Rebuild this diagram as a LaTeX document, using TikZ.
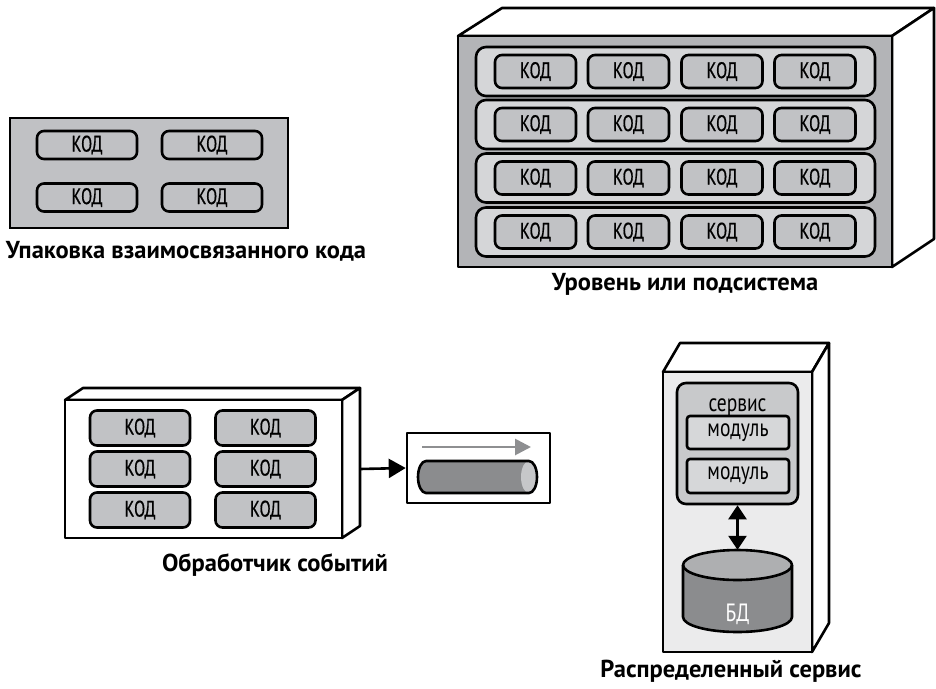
\documentclass[tikz,border=0pt]{standalone}
\usepackage{fontspec}
\setmainfont{PT Sans}
\newfontfamily\cf{PT Sans}[FakeStretch=0.78]
\newfontfamily\codefont{PT Sans}[FakeStretch=0.72, FakeBold=0.6]
\usetikzlibrary{arrows.meta}
\definecolor{pkgfill}{HTML}{C0C1C4}
\definecolor{layerface}{HTML}{B3B4B7}
\definecolor{rowfill}{HTML}{D5D6D8}
\definecolor{codefill}{HTML}{C1C2C5}
\definecolor{distfront}{HTML}{EBEBEC}
\definecolor{svcfill}{HTML}{C8C9CB}
\definecolor{modfill}{HTML}{D6D7D9}
\definecolor{dbtop}{HTML}{AEAFB1}
\definecolor{dbbody}{HTML}{8B8C8E}
\definecolor{qarrow}{HTML}{8E8F91}
\definecolor{capfill}{HTML}{C6C7C9}
\tikzset{
  outline/.style={draw=black, line width=2.6pt, line join=round},
  codebox/.style={draw=black, line width=2.6pt, rounded corners=7pt, fill=codefill,
    minimum width=#1, inner sep=0pt, font=\codefont\fontsize{22.5}{22.5}\selectfont},
  rowbox/.style={draw=black, line width=2.6pt, rounded corners=10pt, fill=rowfill,
    minimum width=399pt, minimum height=49pt, inner sep=0pt},
  modbox/.style={draw=black, line width=2.6pt, rounded corners=3pt, fill=modfill,
    minimum width=102pt, inner sep=0pt, font=\cf\fontsize{25}{25}\selectfont},
  caption/.style={anchor=base, inner sep=0pt, font=\bfseries\fontsize{24.5}{24.5}\selectfont},
  bigarrow/.style={line width=2.6pt, -{Triangle[length=17pt,width=19pt]}},
}
\begin{document}
\begin{tikzpicture}[x=1pt,y=-1pt]
\useasboundingbox (0,0) rectangle (936,688);

% ---------- Package of related code ----------
\node[draw=black, line width=2.2pt, fill=pkgfill, minimum width=278pt, minimum height=110pt, inner sep=0pt] (pkg) at (149,173) {};
\node[codebox=100pt, minimum height=28pt, fill=pkgfill] (p1) at (87,145) {КОД};
\node[codebox=100pt, minimum height=28pt, fill=pkgfill] (p2) at (212,145) {КОД};
\node[codebox=100pt, minimum height=28pt, fill=pkgfill] (p3) at (87,197.5) {КОД};
\node[codebox=100pt, minimum height=28pt, fill=pkgfill] (p4) at (212,197.5) {КОД};
\node[caption] (pkgcap) at (186,258) {Упаковка взаимосвязанного кода};

% ---------- Layer / subsystem ----------
\draw[outline, fill=white] (458,36) -- (502,8) -- (934,8) -- (892,36) -- cycle;
\draw[outline, fill=white] (892,36) -- (934,8) -- (934,239) -- (892,267) -- cycle;
\node[outline, fill=layerface, minimum width=434pt, minimum height=231pt, inner sep=0pt] (layer) at (675,151.5) {};
\foreach \r/\y in {1/71.5, 2/124.5, 3/178, 4/232} {
  \node[rowbox] (row\r) at (675.5,\y) {};
  \foreach \c/\x in {1/535.5, 2/628.5, 3/722, 4/815} {
    \node[codebox=81pt, minimum height=33pt] (l\r\c) at (\x,\y) {КОД};
  }
}
\node[caption] (layercap) at (685,290) {Уровень или подсистема};

% ---------- Event processor ----------
\draw[outline, fill=white] (65,400) -- (83,388) -- (360,388) -- (342,400) -- cycle;
\draw[outline, fill=white] (342,400) -- (360,388) -- (360,526) -- (342,538) -- cycle;
\node[outline, fill=white, minimum width=277pt, minimum height=138pt, inner sep=0pt] (evt) at (203.5,469) {};
\coordinate (evtside) at (360,469);
\foreach \r/\y in {1/428, 2/469, 3/510} {
  \node[codebox=100pt, minimum height=35pt] (e\r1) at (140,\y) {КОД};
  \node[codebox=100pt, minimum height=35pt] (e\r2) at (265.5,\y) {КОД};
}
\node[outline, fill=white, minimum width=143pt, minimum height=70pt, inner sep=0pt] (queue) at (478.5,468) {};
\draw[bigarrow] (evtside) -- (queue.west);
\coordinate (qa) at (422,447);
\coordinate (qb) at (531,447);
\draw[line width=2.8pt, draw=qarrow, -{Triangle[length=16pt,width=16pt]}] (qa) -- (qb);
% horizontal cylinder
\fill[dbbody] (529,461) -- (426,461) arc[start angle=90, end angle=270, x radius=8, y radius=-16] -- (529,493) -- cycle;
\fill[capfill] (529,477) ellipse[x radius=8, y radius=16];
\draw[outline] (529,461) -- (426,461) arc[start angle=90, end angle=270, x radius=8, y radius=-16] -- (529,493)
  arc[start angle=-90, end angle=90, x radius=8, y radius=-16];
\node[caption] (evtcap) at (275,571) {Обработчик событий};

% ---------- Distributed service ----------
\draw[outline, fill=white] (663,372) -- (680,343) -- (829,343) -- (812,372) -- cycle;
\draw[outline, fill=white] (812,372) -- (829,343) -- (829,623) -- (812,652) -- cycle;
\node[outline, fill=distfront, minimum width=149pt, minimum height=280pt, inner sep=0pt] (dist) at (737.5,512) {};
\node[draw=black, line width=2.6pt, rounded corners=9pt, fill=svcfill, minimum width=121pt, minimum height=121pt, inner sep=0pt] (svc) at (737.5,443.5) {};
\node[anchor=base, inner sep=0pt, font=\cf\fontsize{25}{25}\selectfont] (svclbl) at (737.5,411) {сервис};
\node[modbox, minimum height=33pt] (m1) at (738,432.5) {модуль};
\node[modbox, minimum height=34pt] (m2) at (738,476) {модуль};
% database cylinder
\fill[dbbody] (683,565) -- (683,617) arc[start angle=180, end angle=360, x radius=54.5, y radius=-15] -- (792,565) -- cycle;
\fill[dbtop] (737.5,565) ellipse[x radius=54.5, y radius=15];
\draw[outline] (683,565) -- (683,617) arc[start angle=180, end angle=360, x radius=54.5, y radius=-15] -- (792,565);
\draw[outline] (737.5,565) ellipse[x radius=54.5, y radius=15];
\node[inner sep=0pt, minimum width=109pt, minimum height=82pt] (db) at (737.5,591) {};
\node[anchor=base, inner sep=0pt, text=white, font=\cf\fontsize{25}{25}\selectfont] (dblbl) at (737.5,621) {БД};
\draw[line width=2.6pt, {Triangle[length=14pt,width=18pt]}-{Triangle[length=14pt,width=18pt]}] (svc.south) -- (db.north);
\node[caption] (distcap) at (731,677) {Распределенный сервис};
\end{tikzpicture}
\end{document}
